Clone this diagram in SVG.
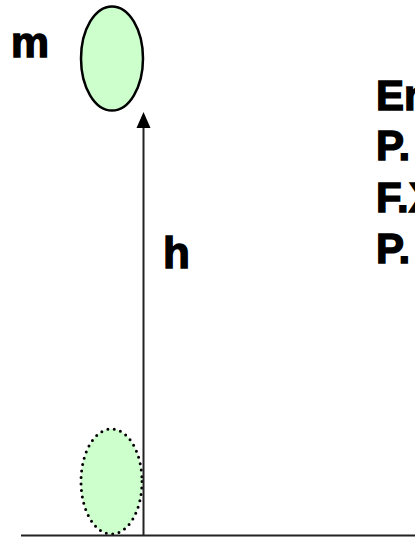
<svg xmlns="http://www.w3.org/2000/svg" width="415" height="540" viewBox="0 0 415 540">
  <style>
    .lbl { font-family: "Liberation Sans", Arial, sans-serif; font-weight: bold; fill: #000; stroke: #000; stroke-width: 1.4; stroke-linejoin: miter; }
    .ball { fill: #ccffcc; }
    .line { stroke: #222; stroke-width: 2; fill: none; }
  </style>
  <rect width="415" height="540" fill="#fff"/>

  <!-- ball at height h -->
  <g id="ball-top">
    <ellipse class="ball" cx="112" cy="58.5" rx="31" ry="52" stroke="#000" stroke-width="2.5"/>
  </g>
  <!-- ball on the ground -->
  <g id="ball-ground">
    <ellipse class="ball" cx="111.5" cy="481.5" rx="30.5" ry="52.5" stroke="#000" stroke-width="3" stroke-dasharray="0 6.5" stroke-linecap="round"/>
  </g>

  <g id="connectors">
    <line class="line" x1="21" y1="535.5" x2="415" y2="535.5"/>
    <line class="line" x1="143.5" y1="535" x2="143.5" y2="126"/>
    <path d="M143.5,112 L150.5,128 L136.5,128 Z" fill="#000"/>
  </g>

  <g id="labels">
    <text class="lbl" x="11" y="57" font-size="42" textLength="38" lengthAdjust="spacingAndGlyphs">m</text>
    <text class="lbl" x="163" y="268" font-size="44">h</text>
    <text class="lbl" x="376" y="110" font-size="42">En</text>
    <text class="lbl" x="376" y="160" font-size="42">P.</text>
    <text class="lbl" x="376" y="212" font-size="42">F.X</text>
    <text class="lbl" x="376" y="263" font-size="42">P.</text>
  </g>
</svg>
